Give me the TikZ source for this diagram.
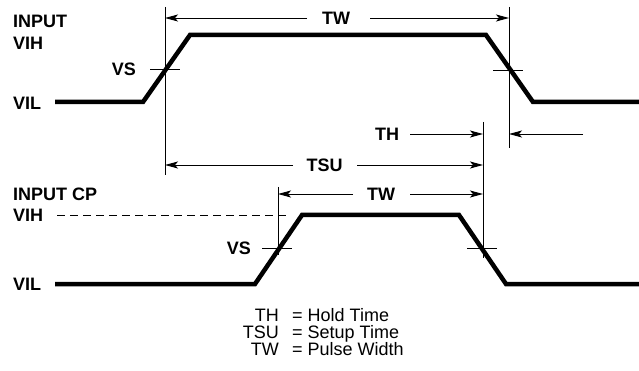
\documentclass[tikz,border=0pt]{standalone}
\usepackage{fontspec}
\setmainfont{Liberation Sans}
\usetikzlibrary{arrows.meta}
\begin{document}
\begin{tikzpicture}[x=1pt,y=-1pt,
  wave/.style={line width=4.5pt, line join=miter},
  thinline/.style={line width=0.9pt},
  dim/.style={line width=0.9pt, -{Stealth[length=13pt,width=7pt,inset=3pt]}},
  lbl/.style={font=\bfseries\fontsize{18}{20}\selectfont, inner sep=0pt, text height=12.9pt, text depth=0pt},
  leg/.style={font=\fontsize{18}{20}\selectfont, inner sep=0pt, text height=12.9pt, text depth=0pt}]
\useasboundingbox (0,0) rectangle (639,371);

% waveforms
\coordinate (a0) at (55,102);  \coordinate (a1) at (143,102);
\coordinate (a2) at (190,35);  \coordinate (a3) at (486,35);
\coordinate (a4) at (533,102); \coordinate (a5) at (639,102);
\coordinate (b0) at (55,284);  \coordinate (b1) at (255,284);
\coordinate (b2) at (302,215); \coordinate (b3) at (459,215);
\coordinate (b4) at (506,284); \coordinate (b5) at (639,284);
\draw[wave] (a0) -- (a1) -- (a2) -- (a3) -- (a4) -- (a5);
\draw[wave] (b0) -- (b1) -- (b2) -- (b3) -- (b4) -- (b5);

% reference lines
\coordinate (v1t) at (165,7);   \coordinate (v1b) at (165,175);
\coordinate (v2t) at (509,7);   \coordinate (v2b) at (509,148);
\coordinate (v3t) at (278,187); \coordinate (v3b) at (278,255);
\coordinate (v4t) at (483,122); \coordinate (v4b) at (483,258);
\draw[thinline] (v1t) -- (v1b);
\draw[thinline] (v2t) -- (v2b);
\draw[thinline] (v3t) -- (v3b);
\draw[thinline] (v4t) -- (v4b);

% VS ticks
\coordinate (t1l) at (150,69);  \coordinate (t1r) at (180,69);
\coordinate (t2l) at (493,70);  \coordinate (t2r) at (523,70);
\coordinate (t3l) at (262,248); \coordinate (t3r) at (292,248);
\coordinate (t4l) at (467,248); \coordinate (t4r) at (497,248);
\draw[thinline] (t1l) -- (t1r);
\draw[thinline] (t2l) -- (t2r);
\draw[thinline] (t3l) -- (t3r);
\draw[thinline] (t4l) -- (t4r);

% dashed VIH
\coordinate (d0) at (57,215); \coordinate (d1) at (290,215);
\draw[thinline, dash pattern=on 8pt off 5pt] (d0) -- (d1);

% labels
\node[lbl, anchor=west] (inp) at (13,21) {INPUT};
\node[lbl, anchor=west] (vih1) at (13,43) {VIH};
\node[lbl, anchor=west] (vil1) at (13,103) {VIL};
\node[lbl, anchor=east] (vs1) at (136,69) {VS};
\node[lbl, anchor=west] (inpcp) at (13,194) {INPUT CP};
\node[lbl, anchor=west] (vih2) at (13,215) {VIH};
\node[lbl, anchor=west] (vil2) at (13,284) {VIL};
\node[lbl, anchor=east] (vs2) at (251,248) {VS};
\node[lbl] (tw1) at (336,18) {TW};
\node[lbl] (th) at (387,134) {TH};
\node[lbl] (tsu) at (324.5,165) {TSU};
\node[lbl] (tw2) at (381,194) {TW};

% dimension arrows
\coordinate (tw1a) at (307,18); \coordinate (tw1b) at (370,18);
\coordinate (tw1L) at (165,18); \coordinate (tw1R) at (509,18);
\draw[dim] (tw1a) -- (tw1L);
\draw[dim] (tw1b) -- (tw1R);

\coordinate (tha) at (410,134); \coordinate (thR) at (483,134);
\coordinate (thb) at (583,134); \coordinate (thL) at (509,134);
\draw[dim] (tha) -- (thR);
\draw[dim] (thb) -- (thL);

\coordinate (tsua) at (293,165); \coordinate (tsuL) at (165,165);
\coordinate (tsub) at (357,165); \coordinate (tsuR) at (483,165);
\draw[dim] (tsua) -- (tsuL);
\draw[dim] (tsub) -- (tsuR);

\coordinate (tw2a) at (353,194); \coordinate (tw2L) at (278,194);
\coordinate (tw2b) at (410,194); \coordinate (tw2R) at (483,194);
\draw[dim] (tw2a) -- (tw2L);
\draw[dim] (tw2b) -- (tw2R);

% legend
\node[leg, anchor=east] (lth) at (279,315.5) {TH};
\node[leg, anchor=east] (ltsu) at (279,332.5) {TSU};
\node[leg, anchor=east] (ltw) at (279,349.5) {TW};
\node[leg, anchor=west] (dth) at (292,315.5) {= Hold Time};
\node[leg, anchor=west] (dtsu) at (292,332.5) {= Setup Time};
\node[leg, anchor=west] (dtw) at (292,349.5) {= Pulse Width};
\end{tikzpicture}
\end{document}
